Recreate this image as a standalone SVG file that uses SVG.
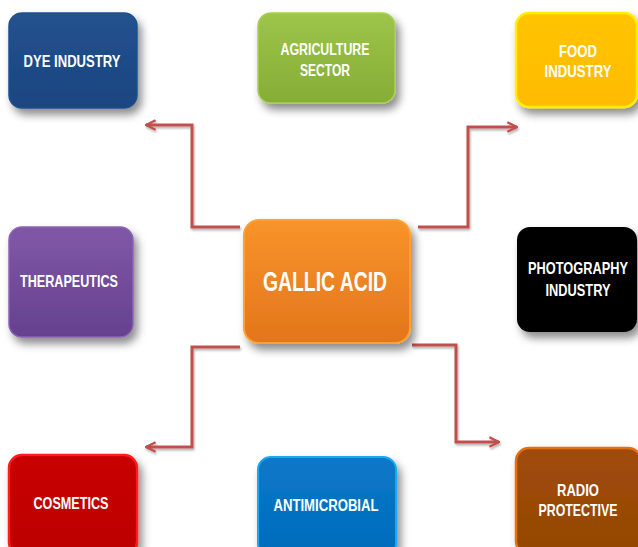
<svg xmlns="http://www.w3.org/2000/svg" width="638" height="547" viewBox="0 0 638 547">
<defs>
<filter id="sh" x="-20%" y="-20%" width="150%" height="150%">
<feDropShadow dx="4" dy="6" stdDeviation="4" flood-color="#000" flood-opacity="0.45"/>
</filter>
<filter id="ash" x="-20%" y="-20%" width="150%" height="150%">
<feDropShadow dx="1" dy="2" stdDeviation="1.2" flood-color="#000" flood-opacity="0.3"/>
</filter>
<linearGradient id="gBlue" x1="0" y1="0" x2="0" y2="1"><stop offset="0" stop-color="#23528f"/><stop offset="1" stop-color="#1a4580"/></linearGradient>
<linearGradient id="gGreen" x1="0" y1="0" x2="0" y2="1"><stop offset="0" stop-color="#9cc54a"/><stop offset="1" stop-color="#86ad35"/></linearGradient>
<linearGradient id="gFood" x1="0" y1="0" x2="0" y2="1"><stop offset="0" stop-color="#ffc400"/><stop offset="1" stop-color="#ffbb00"/></linearGradient>
<linearGradient id="gPurple" x1="0" y1="0" x2="0" y2="1"><stop offset="0" stop-color="#8058a8"/><stop offset="1" stop-color="#65418f"/></linearGradient>
<linearGradient id="gOrange" x1="0" y1="0" x2="0" y2="1"><stop offset="0" stop-color="#f9932a"/><stop offset="1" stop-color="#e2761c"/></linearGradient>
<linearGradient id="gRed" x1="0" y1="0" x2="0" y2="1"><stop offset="0" stop-color="#c80000"/><stop offset="1" stop-color="#bd0000"/></linearGradient>
<linearGradient id="gAnti" x1="0" y1="0" x2="0" y2="1"><stop offset="0" stop-color="#0a78c8"/><stop offset="1" stop-color="#006cbb"/></linearGradient>
<linearGradient id="gBrown" x1="0" y1="0" x2="0" y2="1"><stop offset="0" stop-color="#a04c08"/><stop offset="1" stop-color="#944605"/></linearGradient>
<marker id="ah" viewBox="0 0 10 10" markerWidth="12" markerHeight="12" refX="9" refY="5" orient="auto" markerUnits="userSpaceOnUse">
<path d="M1,1 L9,5 L1,9" fill="none" stroke="#c0504d" stroke-width="2"/>
</marker>
</defs>
<style>
.box{filter:url(#sh)}
.lbl{font-family:"Liberation Sans",Arial,sans-serif;font-weight:bold;font-size:16.5px;fill:#fff;text-anchor:middle}
.big{font-size:27px}
.con path{fill:none;stroke:#c0504d;stroke-width:3;marker-end:url(#ah);filter:url(#ash)}
</style>
<rect width="638" height="547" fill="#fff"/>
<g class="con" id="connectors">
<path d="M240,227 H192 V125 H146"/>
<path d="M335,213 V129"/>
<path d="M418,227 H468 V127 H517"/>
<path d="M237,281 H146"/>
<path d="M418,281 H509"/>
<path d="M240,347 H192 V447 H146"/>
<path d="M335,365 V439"/>
<path d="M412,345 H456 V442 H499"/>
</g>
<g id="dye"><rect class="box" x="9" y="13" width="128" height="95" rx="13" fill="url(#gBlue)" stroke="#1f4f8e" stroke-width="1.5"/>
<text class="lbl" x="72" y="67" textLength="97" lengthAdjust="spacingAndGlyphs">DYE INDUSTRY</text></g>
<g id="agriculture"><rect class="box" x="258" y="13" width="137" height="90" rx="13" fill="url(#gGreen)" stroke="#a8cf55" stroke-width="1.5"/>
<text class="lbl" x="325" y="55" textLength="89" lengthAdjust="spacingAndGlyphs">AGRICULTURE</text>
<text class="lbl" x="325" y="76" textLength="50" lengthAdjust="spacingAndGlyphs">SECTOR</text></g>
<g id="food"><rect class="box" x="516" y="13" width="121" height="94" rx="13" fill="url(#gFood)" stroke="#ffee00" stroke-width="2.5"/>
<text class="lbl" x="578" y="57" textLength="38" lengthAdjust="spacingAndGlyphs">FOOD</text>
<text class="lbl" x="578" y="77" textLength="67" lengthAdjust="spacingAndGlyphs">INDUSTRY</text></g>
<g id="therapeutics"><rect class="box" x="9" y="227" width="124" height="110" rx="13" fill="url(#gPurple)" stroke="#8a63b3" stroke-width="1.5"/>
<text class="lbl" x="69" y="287" textLength="98" lengthAdjust="spacingAndGlyphs">THERAPEUTICS</text></g>
<g id="gallic"><rect class="box" x="244" y="220" width="166" height="123" rx="15" fill="url(#gOrange)" stroke="#ffa030" stroke-width="2"/>
<text class="lbl big" x="325" y="291" textLength="124" lengthAdjust="spacingAndGlyphs">GALLIC ACID</text></g>
<g id="photography"><rect class="box" x="517" y="227" width="120" height="105" rx="13" fill="#000"/>
<text class="lbl" x="578" y="274" textLength="100" lengthAdjust="spacingAndGlyphs">PHOTOGRAPHY</text>
<text class="lbl" x="578" y="296" textLength="65" lengthAdjust="spacingAndGlyphs">INDUSTRY</text></g>
<g id="cosmetics"><rect class="box" x="9" y="455" width="128" height="100" rx="13" fill="url(#gRed)" stroke="#ff1a1a" stroke-width="2.5"/>
<text class="lbl" x="71" y="509" textLength="75" lengthAdjust="spacingAndGlyphs">COSMETICS</text></g>
<g id="antimicrobial"><rect class="box" x="258" y="457" width="138" height="100" rx="13" fill="url(#gAnti)" stroke="#1aa8ee" stroke-width="2"/>
<text class="lbl" x="326" y="511" textLength="105" lengthAdjust="spacingAndGlyphs">ANTIMICROBIAL</text></g>
<g id="radio"><rect class="box" x="516" y="448" width="125" height="106" rx="13" fill="url(#gBrown)" stroke="#e56f0c" stroke-width="2.5"/>
<text class="lbl" x="578" y="496" textLength="42" lengthAdjust="spacingAndGlyphs">RADIO</text>
<text class="lbl" x="578" y="516" textLength="79" lengthAdjust="spacingAndGlyphs">PROTECTIVE</text></g>
</svg>
